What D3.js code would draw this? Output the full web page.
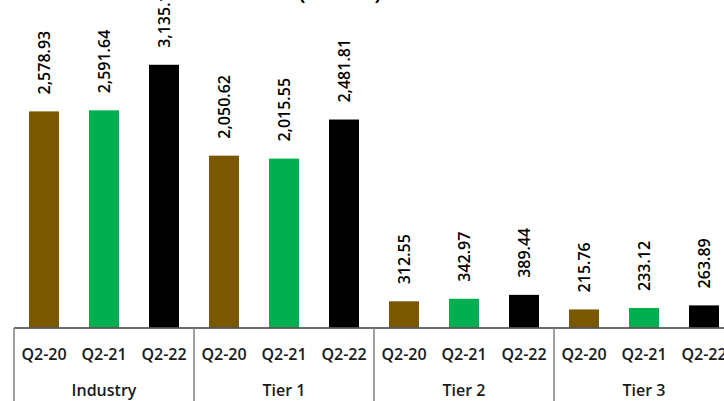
<!DOCTYPE html>
<html>
<head>
<meta charset="utf-8">
<script src="https://cdn.jsdelivr.net/npm/d3@7"></script>
<style>
  html, body { margin: 0; padding: 0; background: #ffffff; }
  svg { display: block; font-family: "Open Sans", sans-serif; }
</style>
</head>
<body>
<div id="chart"></div>
<script>
// data
const groups = ["Industry", "Tier 1", "Tier 2", "Tier 3"];
const periods = ["Q2-20", "Q2-21", "Q2-22"];
const valuesQ220 = [2578.93, 2050.62, 312.55, 215.76];
const valuesQ221 = [2591.64, 2015.55, 342.97, 233.12];
const valuesQ222 = [3135.14, 2481.81, 389.44, 263.89];
const periodColors = ["#7a5800", "#00b050", "#000000"];

const width = 724, height = 401;
const baseY = 327.5;

const svg = d3.select("#chart").append("svg")
    .attr("width", width)
    .attr("height", height);

const xGroup = d3.scaleBand().domain(groups).range([14, 734]).padding(0);
const xPeriod = d3.scaleBand().domain(periods).range([0, xGroup.bandwidth()])
    .paddingInner(0.5).paddingOuter(0.25);
const y = d3.scaleLinear().domain([0, 4000]).range([baseY, baseY - 4000 * 0.0838]);

const seriesList = [valuesQ220, valuesQ221, valuesQ222];
const rows = [];
groups.forEach((g, gi) => {
    periods.forEach((p, pi) => {
        rows.push({ group: g, period: p, value: seriesList[pi][gi], color: periodColors[pi] });
    });
});

// title (only its lower edge is in the frame)
svg.append("text")
    .attr("x", 340)
    .attr("y", 0)
    .attr("text-anchor", "middle")
    .style("font-size", "22px")
    .style("font-weight", "600")
    .text("(in '000)");

// bars
svg.append("g").selectAll("rect")
    .data(rows)
    .join("rect")
    .attr("x", d => xGroup(d.group) + xPeriod(d.period))
    .attr("y", d => y(d.value))
    .attr("width", xPeriod.bandwidth())
    .attr("height", d => baseY - y(d.value))
    .attr("fill", d => d.color);

// value labels
svg.append("g").selectAll("text")
    .data(rows)
    .join("text")
    .attr("transform", d => {
        const cx = xGroup(d.group) + xPeriod(d.period) + xPeriod.bandwidth() / 2;
        return "translate(" + cx + "," + (y(d.value) - 17) + ") rotate(-90)";
    })
    .attr("dy", "0.36em")
    .attr("text-anchor", "start")
    .style("font-size", "16px")
    .style("font-weight", "600")
    .style("fill", "#000")
    .text(d => d3.format(",.2f")(d.value));

// baseline
svg.append("line")
    .attr("x1", xGroup.range()[0]).attr("x2", width)
    .attr("y1", baseY + 0.5).attr("y2", baseY + 0.5)
    .attr("stroke", "#3a3a3a")
    .attr("stroke-width", 1.5);

// group separators
svg.append("g").selectAll("line")
    .data(groups.concat(["end"]))
    .join("line")
    .attr("x1", (d, i) => xGroup.range()[0] + i * xGroup.step())
    .attr("x2", (d, i) => xGroup.range()[0] + i * xGroup.step())
    .attr("y1", baseY + 0.5)
    .attr("y2", height)
    .attr("stroke", "#808080")
    .attr("stroke-width", 1.5);

// period tick labels
svg.append("g").selectAll("text")
    .data(rows)
    .join("text")
    .attr("x", d => xGroup(d.group) + xPeriod(d.period) + xPeriod.bandwidth() / 2)
    .attr("y", 360)
    .attr("text-anchor", "middle")
    .style("font-size", "16px")
    .style("font-weight", "600")
    .style("fill", "#1a1a1a")
    .text(d => d.period);

// group labels
svg.append("g").selectAll("text")
    .data(groups)
    .join("text")
    .attr("x", d => xGroup(d) + xGroup.bandwidth() / 2)
    .attr("y", 396)
    .attr("text-anchor", "middle")
    .style("font-size", "16px")
    .style("font-weight", "600")
    .style("fill", "#1a1a1a")
    .text(d => d);
</script>
</body>
</html>
